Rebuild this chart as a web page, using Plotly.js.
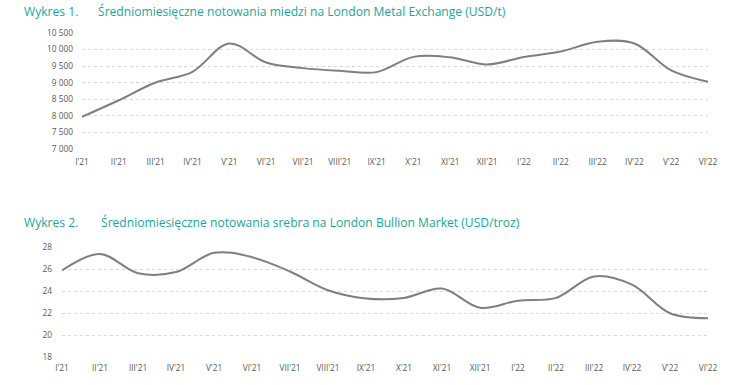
<!DOCTYPE html>
<html><head><meta charset="utf-8">
<script src="https://cdn.plot.ly/plotly-3.0.1.min.js"></script>
<style>html,body{margin:0;padding:0;background:#fff}#chart{width:750px;height:385px}</style>
</head><body><div id="chart"></div>
<script>
const months = ["I'21","II'21","III'21","IV'21","V'21","VI'21","VII'21","VIII'21","IX'21","X'21","XI'21","XII'21","I'22","II'22","III'22","IV'22","V'22","VI'22"];
const copper = [7970,8470,9005,9330,10185,9610,9440,9360,9320,9780,9765,9550,9775,9940,10235,10185,9370,9030];
const silver = [25.9,27.4,25.65,25.75,27.5,27.1,25.8,24.1,23.35,23.4,24.25,22.5,23.15,23.4,25.35,24.6,22.0,21.55];
const copperTicks = [7000,7500,8000,8500,9000,9500,10000,10500];
const copperTickText = ["7 000","7 500","8 000","8 500","9 000","9 500","10 000","10 500"];
const silverTicks = [18,20,22,24,26,28];
const title1a = "Wykres 1.";
const title1b = "Średniomiesięczne notowania miedzi na London Metal Exchange (USD/t)";
const title2a = "Wykres 2.";
const title2b = "Średniomiesięczne notowania srebra na London Bullion Market (USD/troz)";

const W = 750, H = 385;
const fx = p => p / W, fy = p => 1 - p / H;
const lineStyle = {color:'#7f7f7f', width:2, shape:'spline', smoothing:1};
const idx = months.map((m,i)=>i);
const tickFont = {family:'Open Sans, sans-serif', size:8.3, color:'#595959'};
const titleFont = {family:'Open Sans, sans-serif', size:12.1, color:'#19a898'};

const data = [
  {x: idx, y: copper, type:'scatter', mode:'lines', line: lineStyle, xaxis:'x', yaxis:'y', hoverinfo:'skip'},
  {x: idx, y: silver, type:'scatter', mode:'lines', line: lineStyle, xaxis:'x2', yaxis:'y2', hoverinfo:'skip'}
];
const gridStyle = {showgrid:true, gridcolor:'#d9d9d9', griddash:'dot', gridwidth:1, zeroline:false, showline:false, ticks:''};
const layout = {
  width: W, height: H, margin:{l:0,r:0,t:0,b:0}, showlegend:false,
  paper_bgcolor:'#fff', plot_bgcolor:'#fff',
  xaxis: {domain:[fx(82), fx(708)], range:[0,17], tickvals: idx, ticktext: months, showgrid:false, zeroline:false, showline:false, ticks:'', tickfont: tickFont, anchor:'y', ticklabelstandoff:7},
  yaxis: Object.assign({domain:[fy(149), fy(33)], range:[7000,10500], tickvals: copperTicks, ticktext: copperTickText, tickfont: tickFont, anchor:'x', ticklabelstandoff:8}, gridStyle),
  xaxis2: {domain:[fx(62), fx(708)], range:[0,17], tickvals: idx, ticktext: months, showgrid:false, zeroline:false, showline:false, ticks:'', tickfont: tickFont, anchor:'y2', ticklabelstandoff:4},
  yaxis2: Object.assign({domain:[fy(357.3), fy(247.3)], range:[18,28], tickvals: silverTicks, tickfont: tickFont, anchor:'x2', ticklabelstandoff:9}, gridStyle),
  annotations: [
    {text: title1a, xref:'paper', yref:'paper', x: fx(22), y: fy(11), xanchor:'left', yanchor:'middle', showarrow:false, font: titleFont},
    {text: title1b, xref:'paper', yref:'paper', x: fx(96), y: fy(11), xanchor:'left', yanchor:'middle', showarrow:false, font: titleFont},
    {text: title2a, xref:'paper', yref:'paper', x: fx(22), y: fy(222), xanchor:'left', yanchor:'middle', showarrow:false, font: titleFont},
    {text: title2b, xref:'paper', yref:'paper', x: fx(99), y: fy(222), xanchor:'left', yanchor:'middle', showarrow:false, font: titleFont}
  ]
};
Plotly.newPlot('chart', data, layout, {staticPlot:true, displayModeBar:false});
</script></body></html>
